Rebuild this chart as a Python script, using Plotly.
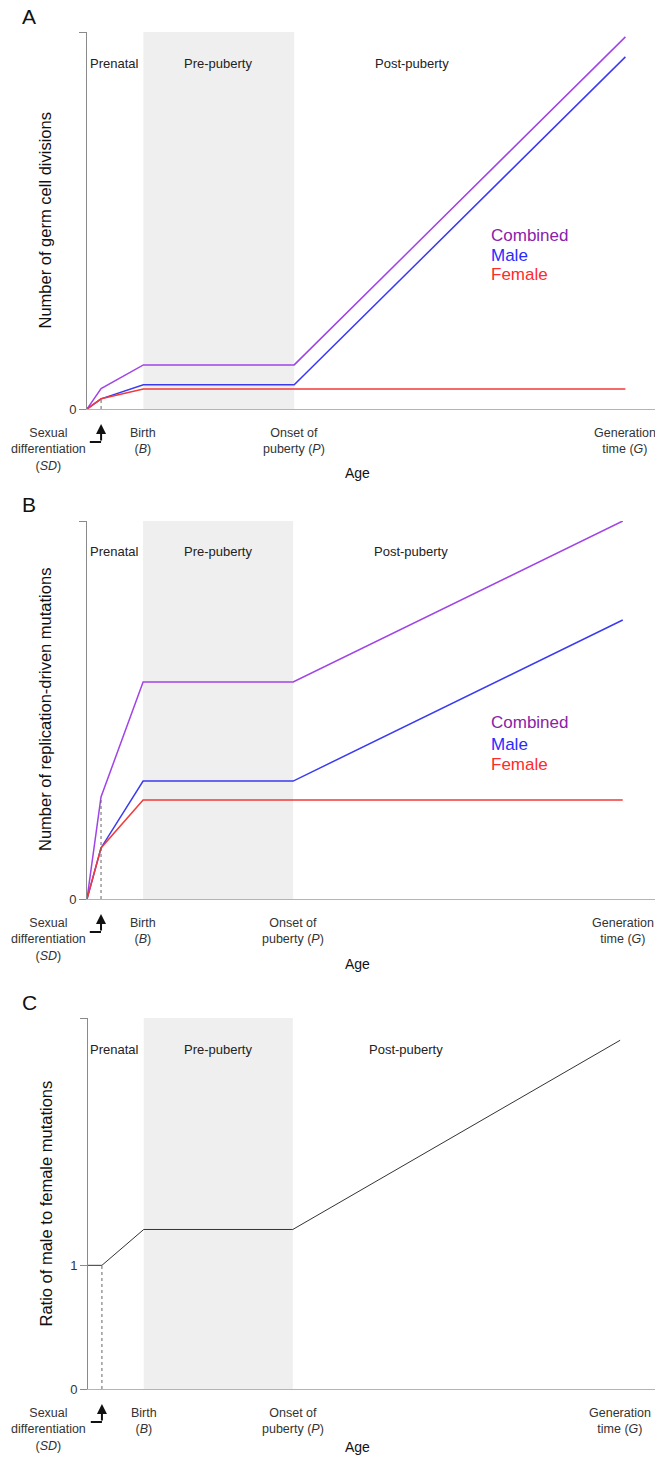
import plotly.graph_objects as go

# ---------------- data ----------------
stage_labels = ["Sexual<br>differentiation<br>(<i>SD</i>)", "Birth<br>(<i>B</i>)",
                "Onset of<br>puberty (<i>P</i>)", "Generation<br>time (<i>G</i>)"]
phase_labels = ["Prenatal", "Pre-puberty", "Post-puberty"]
series_names = ["Combined", "Male", "Female"]

ages = [0, 1, 4, 14.7, 38.2]          # origin, SD, B, P, G (schematic)

A_combined = [0, 5.4, 11.7, 11.7, 98.7]
A_male = [0, 2.7, 6.4, 6.4, 93.4]
A_female = [0, 2.7, 5.3, 5.3, 5.3]

B_combined = [0, 27.0, 57.4, 57.4, 100.0]
B_male = [0, 13.5, 31.2, 31.2, 73.8]
B_female = [0, 13.5, 26.2, 26.2, 26.2]

C_ratio = [1.0, 1.0, 1.29, 1.29, 2.82]

# ---------------- layout helpers ----------------
W, H = 655, 1458
HY = 1450   # effective vertical scale used for placing elements
FONT = "Liberation Sans, Arial, sans-serif"


def px(x):
    return x / W


def py(y):
    return 1 - y / HY


line_colors = {"Combined": "#a044e6", "Male": "#3a3af2", "Female": "#f23a3a"}
text_colors = {"Combined": "#8a22a8", "Male": "#2a2aff", "Female": "#ff2a2a"}

panels = [
    dict(letter="A", zero=409, top=32, x0=87, xr=40.3, ymax=100,
         ytitle="Number of germ cell divisions",
         series=[A_combined, A_male, A_female], legend_y=[235, 255, 274],
         phase_x=[115, 218, 412], sd_top=2.7, age_dy=64),
    dict(letter="B", zero=899, top=521, x0=87, xr=40.5, ymax=100,
         ytitle="Number of replication-driven mutations",
         series=[B_combined, B_male, B_female], legend_y=[723, 744, 764],
         phase_x=[115, 218, 411], sd_top=27.0, age_dy=65),
    dict(letter="C", zero=1389, top=1018, x0=88, xr=40.7, ymax=3,
         ytitle="Ratio of male to female mutations",
         series=None, legend_y=None,
         phase_x=[115, 218, 406], sd_top=1.0, age_dy=58),
]

fig = go.Figure()
annotations = []
shapes = []

for i, p in enumerate(panels):
    n = "" if i == 0 else str(i + 1)
    xa, ya = "x" + n, "y" + n
    xkey, ykey = "xaxis" + n, "yaxis" + n
    SD, B, P, G = ages[1], ages[2], ages[3], ages[4]

    # shaded pre-puberty band
    shapes.append(dict(type="rect", xref=xa, yref=ya, x0=B, x1=P, y0=0, y1=p["ymax"],
                       fillcolor="#efefef", line=dict(width=0), layer="below"))
    # dotted line at SD
    shapes.append(dict(type="line", xref=xa, yref=ya, x0=SD, x1=SD, y0=0, y1=p["sd_top"],
                       line=dict(color="#666666", width=1, dash="dot")))

    # traces
    if p["series"] is not None:
        for name, vals in zip(series_names, p["series"]):
            fig.add_trace(go.Scatter(x=ages, y=vals, mode="lines", xaxis=xa, yaxis=ya,
                                     line=dict(color=line_colors[name], width=1.5),
                                     name=name, showlegend=False, hoverinfo="skip"))
        for name, yy in zip(series_names, p["legend_y"]):
            annotations.append(dict(text=name, xref="paper", yref="paper", x=px(489), y=py(yy),
                                    xanchor="left", yanchor="middle", showarrow=False,
                                    font=dict(family=FONT, size=17, color=text_colors[name])))
        tickvals, ticktext = [0, p["ymax"]], ["0", ""]
    else:
        fig.add_trace(go.Scatter(x=ages, y=C_ratio, mode="lines", xaxis=xa, yaxis=ya,
                                 line=dict(color="#333333", width=1),
                                 showlegend=False, hoverinfo="skip"))
        tickvals, ticktext = [0, 1, p["ymax"]], ["0", "1", ""]

    fig.update_layout(**{
        xkey: dict(domain=[px(p["x0"]), 1.0], range=[0, p["xr"]], showgrid=False,
                   zeroline=False, showticklabels=False, ticks="", showline=True,
                   linecolor="#b4b4b4", linewidth=1, anchor=ya, fixedrange=True),
        ykey: dict(domain=[py(p["zero"]), py(p["top"])], range=[0, p["ymax"]],
                   showgrid=False, zeroline=False, showline=True, linecolor="#8a8a8a",
                   linewidth=1, ticks="outside", ticklen=7, tickcolor="#8a8a8a",
                   tickvals=tickvals, ticktext=ticktext, anchor=xa,
                   tickfont=dict(family=FONT, size=13, color="#333333"), fixedrange=True),
    })

    # panel letter
    annotations.append(dict(text=p["letter"], xref="paper", yref="paper",
                            x=px(29), y=py(p["top"] - 16), xanchor="center", yanchor="middle",
                            showarrow=False, font=dict(family=FONT, size=21, color="#111111")))
    # phase labels
    for lab, xx in zip(phase_labels, p["phase_x"]):
        annotations.append(dict(text=lab, xref="paper", yref="paper", x=px(xx), y=py(p["top"] + 31),
                                xanchor="center", yanchor="middle", showarrow=False,
                                font=dict(family=FONT, size=13, color="#222222")))
    # x stage labels (first one sits left of the axis -> paper coords)
    annotations.append(dict(text=stage_labels[0], xref="paper", yref="paper", x=px(48),
                            y=py(p["zero"] + 15), xanchor="center", yanchor="top",
                            showarrow=False, font=dict(family=FONT, size=12.5, color="#333333")))
    for lab, xx in zip(stage_labels[1:], [B, P, G]):
        annotations.append(dict(text=lab, xref=xa, yref="paper", x=xx, y=py(p["zero"] + 15),
                                xanchor="center", yanchor="top", showarrow=False,
                                font=dict(family=FONT, size=12.5, color="#333333")))
    # axis titles
    annotations.append(dict(text="Age", xref="paper", yref="paper", x=px(357),
                            y=py(p["zero"] + p["age_dy"]), xanchor="center", yanchor="middle",
                            showarrow=False, font=dict(family=FONT, size=14, color="#111111")))
    annotations.append(dict(text=p["ytitle"], xref="paper", yref="paper", x=px(45),
                            y=py((p["zero"] + p["top"]) / 2), textangle=-90,
                            xanchor="center", yanchor="middle", showarrow=False,
                            font=dict(family=FONT, size=16.5, color="#111111")))
    # L-shaped arrow pointing to SD
    annotations.append(dict(text="", xref=xa, yref="paper", x=SD, y=py(p["zero"] + 15),
                            ax=0, ay=18, showarrow=True, arrowhead=2, arrowsize=1,
                            arrowwidth=2, arrowcolor="#111111", standoff=0))
    shapes.append(dict(type="line", xref=xa, yref="paper", x0=0.2, x1=SD,
                       y0=py(p["zero"] + 33), y1=py(p["zero"] + 33),
                       line=dict(color="#111111", width=2)))

fig.update_layout(width=W, height=H, margin=dict(l=0, r=0, t=0, b=0),
                  paper_bgcolor="white", plot_bgcolor="white",
                  annotations=annotations, shapes=shapes, showlegend=False,
                  font=dict(family=FONT))

fig.write_html("out.html", config={"displayModeBar": False},
               post_script="document.body.style.margin='0';document.body.style.overflow='hidden';")
